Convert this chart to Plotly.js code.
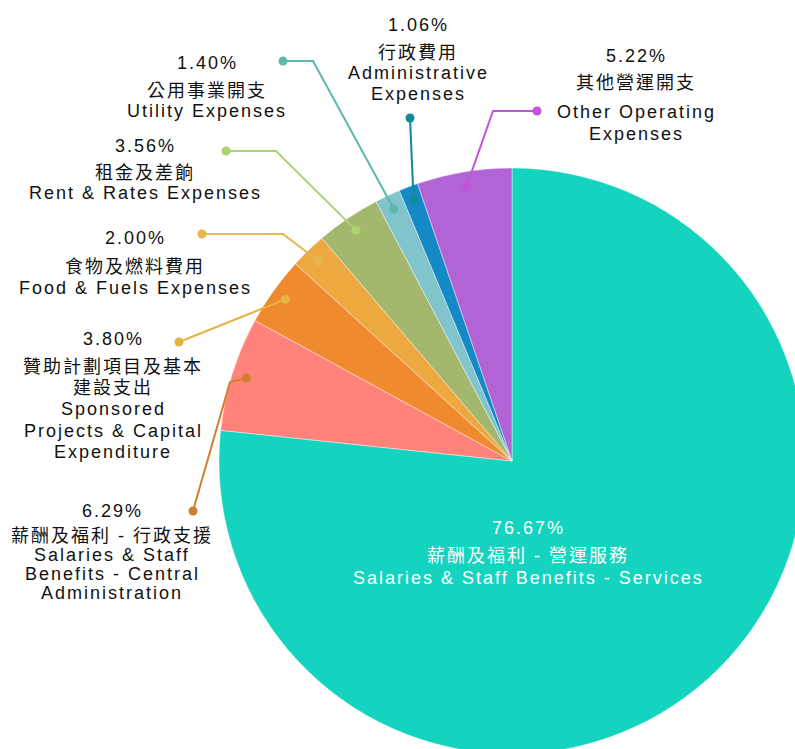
<!DOCTYPE html>
<html>
<head>
<meta charset="utf-8">
<script src="https://cdn.plot.ly/plotly-3.0.1.min.js"></script>
<style>
  html, body { margin: 0; padding: 0; overflow: hidden; background: #ffffff; width: 795px; height: 749px; }
  #chart { width: 1024px; height: 922px; }
  .annotation-text { letter-spacing: 2px; }
</style>
</head>
<body>
<div id="chart"></div>
<script>
// ---------------- DATA ----------------
const values = [76.67, 6.29, 3.80, 2.00, 3.56, 1.40, 1.06, 5.22];
const labelsZh = [
  '薪酬及福利 - 營運服務',
  '薪酬及福利 - 行政支援',
  '贊助計劃項目及基本<br>建設支出',
  '食物及燃料費用',
  '租金及差餉',
  '公用事業開支',
  '行政費用',
  '其他營運開支'
];
const labelsEn = [
  'Salaries & Staff Benefits - Services',
  'Salaries & Staff<br>Benefits - Central<br>Administration',
  'Sponsored<br>Projects & Capital<br>Expenditure',
  'Food & Fuels Expenses',
  'Rent & Rates Expenses',
  'Utility Expenses',
  'Administrative<br>Expenses',
  'Other Operating<br>Expenses'
];

// ---------------- STYLE / LAYOUT ----------------
const sliceColors = ['#14D4BF', '#FF837A', '#F08A2E', '#EEA840', '#A3B76D', '#82C4CC', '#1589C5', '#B263D6'];
const leaderColors = [null, '#D27D2D', '#E8B23F', '#E4B84F', '#A9D470', '#5DB8AB', '#11899A', '#C154DB'];

const W = 1024, H = 922;           // plot canvas (larger than viewport, clipped like the reference)
const CX = 512, CY = 461, R = 293; // pie centre and radius in pixels
const innerFrac = 0.95;            // where leader lines touch the slices

const labelX = [528, 112, 113, 135, 145, 207, 418, 636];
const lineY = [
  [528, 556, 578],
  [511, 536, 555, 574, 593],
  [339, 367, 388, 409, 431, 452],
  [238, 267, 288],
  [146, 173, 193],
  [63, 91, 111],
  [25, 53, 73, 94],
  [56, 83, 112, 134]
];
const outerDot = [null, [193, 511], [179, 342], [202, 234], [226, 151], [283, 61], [410, 118], [537, 111]];
const elbow =    [null, [230, 382], [179, 342], [283, 234], [276, 151], [313, 61], [410, 118], [493, 111]];

const FONT = '"Liberation Sans", Arial, "Noto Sans CJK TC", sans-serif';

function px(x) { return x / W; }
function py(y) { return 1 - y / H; }

// ---------------- TRACE ----------------
const trace = {
  type: 'pie',
  values: values,
  labels: labelsEn,
  sort: false,
  direction: 'clockwise',
  rotation: 0,
  textinfo: 'none',
  hoverinfo: 'skip',
  marker: { colors: sliceColors, line: { color: 'rgba(255,255,255,0.7)', width: 0.6 } },
  domain: {
    x: [(CX - R) / W, (CX + R) / W],
    y: [(H - CY - R) / H, (H - CY + R) / H]
  },
  showlegend: false
};

// ---------------- ANNOTATIONS & LEADERS ----------------
const total = values.reduce((a, b) => a + b, 0);
const annotations = [];
const shapes = [];
let cum = 0;
values.forEach((v, i) => {
  const mid = (cum + v / 2) / total * 2 * Math.PI;
  cum += v;
  const lines = [v.toFixed(2) + '%']
    .concat(labelsZh[i].split('<br>'))
    .concat(labelsEn[i].split('<br>'));
  lines.forEach((t, j) => {
    annotations.push({
      xref: 'paper', yref: 'paper',
      x: px(labelX[i]), y: py(lineY[i][j]),
      text: t, showarrow: false,
      xanchor: 'center', yanchor: 'middle',
      font: { family: FONT, size: 18, color: i === 0 ? '#ffffff' : '#111111' }
    });
  });
  if (i > 0) {
    const ix = CX + innerFrac * R * Math.sin(mid);
    const iy = CY - innerFrac * R * Math.cos(mid);
    const o = outerDot[i], e = elbow[i];
    const col = leaderColors[i];
    shapes.push({
      type: 'path', xref: 'paper', yref: 'paper',
      path: `M ${px(o[0])},${py(o[1])} L ${px(e[0])},${py(e[1])} L ${px(ix)},${py(iy)}`,
      line: { color: col, width: 2 }
    });
    const dr = 4.5;
    [[o[0], o[1]], [ix, iy]].forEach(p => {
      shapes.push({
        type: 'circle', xref: 'paper', yref: 'paper',
        x0: px(p[0] - dr), x1: px(p[0] + dr), y0: py(p[1] + dr), y1: py(p[1] - dr),
        fillcolor: col, line: { width: 0 }
      });
    });
  }
});

const layout = {
  width: W, height: H,
  margin: { l: 0, r: 0, t: 0, b: 0 },
  paper_bgcolor: '#ffffff',
  plot_bgcolor: '#ffffff',
  showlegend: false,
  annotations: annotations,
  shapes: shapes
};

Plotly.newPlot('chart', [trace], layout, { displayModeBar: false, staticPlot: true });
</script>
</body>
</html>
